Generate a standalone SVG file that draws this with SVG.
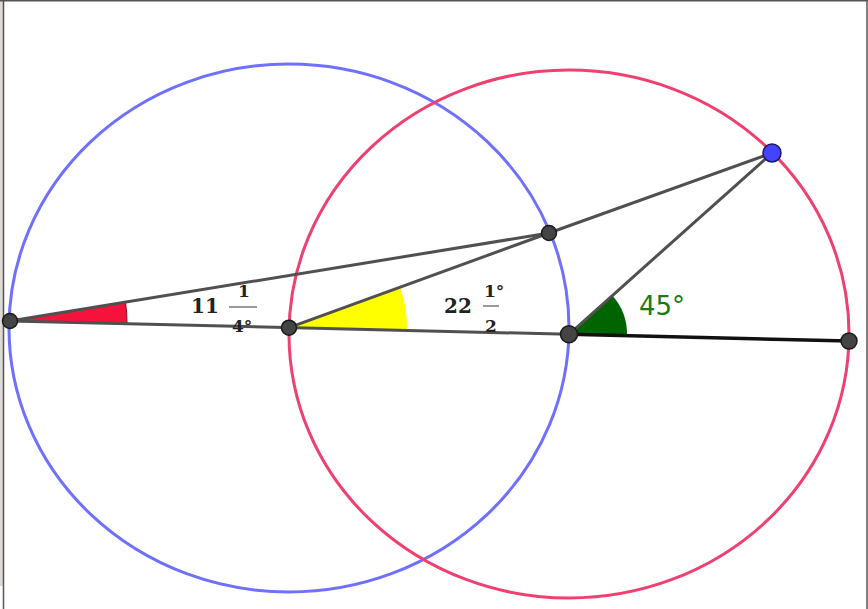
<svg xmlns="http://www.w3.org/2000/svg" width="868" height="609" viewBox="0 0 868 609">
<style>
.circ{fill:none;stroke-width:3}
.seg{stroke:#505050;stroke-width:3;stroke-linecap:round;fill:none}
.pt{fill:#444;stroke:#1a1a1a;stroke-width:1.5}
.lbl{font-family:"DejaVu Serif","Liberation Serif",serif;font-weight:bold;fill:#222}
.big{font-size:20px}
.sm{font-size:17px}
</style>
<rect x="0" y="0" width="868" height="609" fill="#ffffff"/>
<rect x="0" y="0" width="3" height="586" fill="#dedad6"/>
<line x1="3.5" y1="0" x2="3.5" y2="609" stroke="#555" stroke-width="1.5"/>
<line x1="0" y1="0.8" x2="868" y2="0.8" stroke="#555" stroke-width="1.6"/>
<line x1="867" y1="0" x2="867" y2="609" stroke="#555" stroke-width="1.5"/>
<g id="angles">
<path d="M10,321 L126.97,323.79 A117,117 0 0 0 125.47,302.15 Z" fill="#f5133c" stroke="#8a0a20" stroke-width="1"/>
<path d="M289,327.65 L406.96,330.2 A118,118 0 0 0 400,286.9 Z" fill="#ffff00"/>
<path d="M569,334.3 L626.98,335.7 A58,58 0 0 0 612.3,295.4 Z" fill="#006400"/>
</g>
<g id="circles">
<ellipse id="blue-circle" cx="289" cy="328" rx="280" ry="264" class="circ" stroke="#7070ff"/>
<ellipse id="red-circle" cx="569" cy="334" rx="280" ry="264" class="circ" stroke="#ef4070"/>
</g>
<g id="connectors">
<line class="seg" x1="10" y1="321" x2="569" y2="334.3"/>
<line x1="569" y1="334.3" x2="849" y2="341" stroke="#111" stroke-width="3.5" stroke-linecap="round"/>
<line class="seg" x1="10" y1="321" x2="549" y2="233"/>
<line class="seg" x1="549" y1="233" x2="772" y2="153"/>
<line class="seg" x1="289" y1="327.65" x2="549" y2="233"/>
<line class="seg" x1="569" y1="334.3" x2="772" y2="153"/>
</g>
<g id="labels">
<text class="lbl big" x="191" y="313">11</text>
<text class="lbl sm" x="238" y="297">1</text>
<line x1="229" y1="307" x2="257" y2="307" stroke="#555" stroke-width="1.2"/>
<text class="lbl sm" x="232" y="332">4°</text>
<text class="lbl big" x="444" y="313">22</text>
<text class="lbl sm" x="484" y="297">1°</text>
<line x1="483" y1="306" x2="499" y2="306" stroke="#555" stroke-width="1.2"/>
<text class="lbl sm" x="485" y="332">2</text>
<text x="639" y="315" font-family="'DejaVu Sans','Liberation Sans',sans-serif" font-size="26" fill="#1a7a1a">45°</text>
</g>
<g id="point-A"><circle class="pt" cx="10" cy="321" r="7.5"/></g>
<g id="point-B"><circle class="pt" cx="289" cy="327.65" r="7.5"/></g>
<g id="point-C"><circle class="pt" cx="569" cy="334.3" r="8.5"/></g>
<g id="point-D"><circle class="pt" cx="849" cy="341" r="8"/></g>
<g id="point-E"><circle class="pt" cx="549" cy="233" r="7.5"/></g>
<g id="point-F"><circle cx="772" cy="153" r="9" fill="#4444ff" stroke="#1a1a66" stroke-width="1.5"/></g>
</svg>
